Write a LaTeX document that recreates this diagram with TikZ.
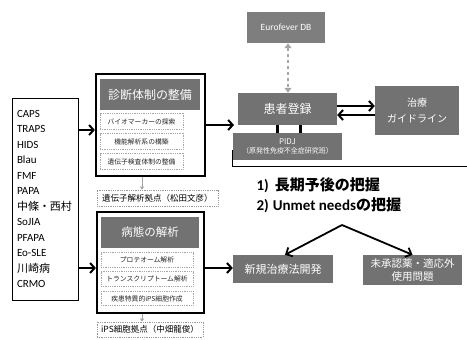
\documentclass[tikz,border=0pt]{standalone}
\usepackage{fontspec}
\setmainfont{Carlito}
\newfontfamily\cjk{Noto Sans CJK JP}
\usetikzlibrary{arrows.meta}
\definecolor{boxgray}{HTML}{727272}
\definecolor{dbgray}{HTML}{7E7E7E}
\begin{document}
\begin{tikzpicture}[x=1pt,y=-1pt,
  outerbox/.style={draw=black,line width=2.2pt,minimum width=#1,inner sep=0pt},
  graybox/.style={fill=boxgray,text=white,inner sep=1pt,align=center},
  subbox/.style={draw=gray!70,densely dotted,line width=0.8pt,fill=white,inner sep=0pt,align=center,text=black!85,font=\cjk\fontsize{6.8}{8}\selectfont},
  basebox/.style={draw=gray!80,densely dotted,line width=0.8pt,inner sep=0pt,align=center,font=\cjk\fontsize{8.5}{10}\selectfont},
  fatarrow/.style={line width=2pt,-{Straight Barb[length=4.5pt,width=10pt]}},
  smallarrow/.style={draw=gray!70,line width=1pt,-{Triangle[length=3pt,width=4pt]}},
  link/.style={line width=3pt}]
\useasboundingbox (0,0) rectangle (467,340);

% left list
\node[draw=black,line width=0.8pt,minimum width=66pt,minimum height=202pt,inner sep=5pt,text width=56pt,align=left,font=\fontsize{11}{15.5}\selectfont] (list) at (45,199)
 {CAPS\\TRAPS\\HIDS\\Blau\\FMF\\PAPA\\{\cjk 中條・西村}\\SoJIA\\PFAPA\\Eo-SLE\\{\cjk 川崎病}\\CRMO};

% diagnosis block
\node[outerbox=109pt,minimum height=102pt] (diag) at (150.5,125) {};
\node[graybox,minimum width=100pt,minimum height=31pt,font=\cjk\fontsize{12}{14}\selectfont] (diaghead) at (150,94.5) {診断体制の整備};
\node[subbox,minimum width=83pt,minimum height=16pt] (bio) at (141.5,121.5) {バイオマーカーの探索};
\node[subbox,minimum width=83pt,minimum height=16pt] (func) at (141.5,141.5) {機能解析系の構築};
\node[subbox,minimum width=83pt,minimum height=16pt] (gtest) at (141.5,161.5) {遺伝子検査体制の整備};
\node[basebox,minimum width=121pt,minimum height=16pt] (gbase) at (157.5,198) {遺伝子解析拠点（松田文彦）};

% pathology block
\node[outerbox=107pt,minimum height=101pt] (path) at (150.5,262.5) {};
\node[graybox,minimum width=98pt,minimum height=31pt,font=\cjk\fontsize{11.5}{14}\selectfont] (pathhead) at (150,232.5) {病態の解析};
\node[subbox,minimum width=92pt,minimum height=14.5pt] (prot) at (147,260) {プロテオーム解析};
\node[subbox,minimum width=92pt,minimum height=14.5pt] (trans) at (147,279) {トランスクリプトーム解析};
\node[subbox,minimum width=92pt,minimum height=14.5pt] (ips) at (147,298.5) {疾患特異的iPS細胞作成};
\node[basebox,minimum width=106pt,minimum height=15pt] (ipsbase) at (150,329.5) {iPS細胞拠点（中畑龍俊）};

% registry side
\node[graybox,fill=dbgray,minimum width=78pt,minimum height=31pt,font=\fontsize{9.5}{11}\selectfont] (euro) at (286,27.5) {Eurofever DB};
\node[graybox,minimum width=99pt,minimum height=32pt,font=\cjk\fontsize{12}{14}\selectfont] (reg) at (287.5,109) {患者登録};
\node[graybox,minimum width=109pt,minimum height=27pt,font=\cjk\fontsize{7}{9.5}\selectfont] (pidj) at (287.5,146.5) {{\fontsize{8}{9.5}\selectfont PIDJ}\\（原発性免疫不全症研究班）};
\node[graybox,minimum width=84pt,minimum height=49pt,font=\cjk\fontsize{10}{16}\selectfont] (guide) at (417,110.5) {治療\\ガイドライン};

\node[anchor=west,font=\bfseries\fontsize{15}{18}\selectfont] (t1) at (253,185) {1)\hspace{6pt}{\cjk\bfseries 長期予後の把握}};
\node[anchor=west,font=\bfseries\fontsize{15}{18}\selectfont] (t2) at (253,205) {2)\hspace{4pt}Unmet needs{\cjk\bfseries の把握}};
\coordinate (apex) at (342,225);

\node[graybox,minimum width=100pt,minimum height=28pt,font=\cjk\fontsize{11}{13}\selectfont] (newtx) at (283,269) {新規治療法開発};
\node[graybox,minimum width=99pt,minimum height=30pt,font=\cjk\fontsize{10.5}{13}\selectfont] (offlabel) at (412.5,270) {未承認薬・適応外\\使用問題};

% connectors
\draw[fatarrow] (list.east |- 0,130) -- (diag.west |- 0,130);
\draw[fatarrow] (list.east |- 0,268) -- (path.west |- 0,268);
\draw[fatarrow] (diag.east |- 0,125) -- (234,125);
\draw[fatarrow] (path.east |- 0,268) -- (newtx.west |- 0,268);
\draw[smallarrow] (diag.south -| 142,0) -- (gbase.north -| 142,0);
\draw[smallarrow] (path.south -| 142,0) -- (ipsbase.north -| 142,0);
\draw[draw=gray!70,line width=1.3pt,dashed,{Triangle[length=5pt,width=7pt]}-{Triangle[length=5pt,width=7pt]}] (euro.south -| 288,0) -- (reg.north -| 288,0);
\draw[link] (reg.south -| 277,0) -- (pidj.north -| 277,0);
\draw[link] (reg.south -| 300,0) -- (pidj.north -| 300,0);
\draw[fatarrow] (reg.east |- 0,106) -- (guide.west |- 0,106);
\draw[fatarrow] (guide.west |- 0,115) -- (reg.east |- 0,115);
\draw[line width=0.7pt] (232,150) -- (232,166) -- (467,166);
\draw[line width=1.8pt,-{Straight Barb[length=5pt,width=10pt]}] (apex) -- (newtx.north -| 285,0);
\draw[line width=1.8pt,-{Straight Barb[length=5pt,width=10pt]}] (apex) -- (offlabel.north);
\end{tikzpicture}
\end{document}
